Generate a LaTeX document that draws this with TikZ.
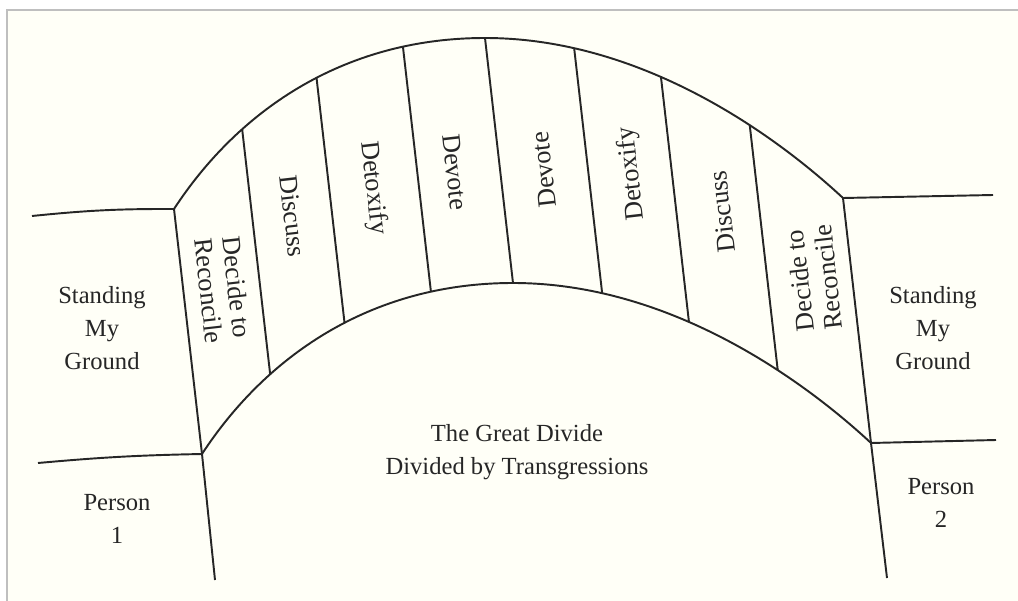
\documentclass[tikz,border=0pt]{standalone}
\usepackage{fontspec}
\setmainfont{Liberation Serif}
\usepackage{tikz}
\usetikzlibrary{calc}

\begin{document}
\begin{tikzpicture}[
  x=0.02cm, y=-0.02cm,
  edge/.style={line width=1.1pt, draw=black!85, line join=round},
  frame/.style={line width=1.4pt, draw=black!25},
  lbl/.style={font=\fontsize{14}{19}\selectfont, align=center, text=black!85},
  vlbl/.style={font=\fontsize{15}{16}\selectfont, align=center, text=black!85}
]
  \useasboundingbox (0,0) rectangle (1018,601);
  \fill[white] (0,0) rectangle (1018,601);
  \fill[yellow!3] (7,10) rectangle (1018,601);
  \draw[frame] (7,601) -- (7,10) -- (1018,10);

  % outer arch, dividers hang from it
  \draw[edge] (174,209) coordinate (lo)
    .. controls (236,114) and (340,38) .. (485,38)
      coordinate[pos=0.304] (o1) coordinate[pos=0.557] (o2)
      coordinate[pos=0.8] (o3) coordinate[pos=1] (o4)
    .. controls (640,38) and (773,133) .. (843,198)
      coordinate[pos=0.198] (o5) coordinate[pos=0.408] (o6)
      coordinate[pos=0.655] (o7) coordinate[pos=1] (ro);
  \coordinate (li) at ($(lo)+(28,245)$);
  \coordinate (ri) at ($(ro)+(28,245)$);
  \draw[edge] (li) .. controls (264,359) and (368,283) .. (513,283)
    .. controls (668,283) and (801,378) .. (ri);
  \foreach \n in {1,...,7}
    \draw[edge] (o\n) -- ($(o\n)+(28,245)$);

  % banks
  \coordinate (lbankA) at (32,216);
  \coordinate (lbankB) at (38,463);
  \coordinate (lfoot) at (215,580);
  \coordinate (rbankA) at (993,195);
  \coordinate (rbankB) at (996,440);
  \coordinate (rfoot) at (887,578);
  \draw[edge] (lbankA) to[bend left=3] (lo) -- (li) -- (lfoot);
  \draw[edge] (lbankB) to[bend left=2] (li);
  \draw[edge] (rbankA) -- (ro) -- (ri) -- (rfoot);
  \draw[edge] (rbankB) -- (ri);

  \node[lbl] (standL) at (102,328) {Standing\\My\\Ground};
  \node[lbl] (standR) at (933,328) {Standing\\My\\Ground};
  \node[lbl] (person1) at (117,519) {Person\\1};
  \node[lbl] (person2) at (941,503) {Person\\2};
  \node[lbl] (divide) at (517,452) {The Great Divide\\Divided by Transgressions};

  \node[vlbl, rotate=-83.5] (decideL) at (223,289) {Decide to\\Reconcile};
  \node[vlbl, rotate=-83.5] (discussL) at (293,216) {Discuss};
  \node[vlbl, rotate=-83.5] (detoxL) at (373,188) {Detoxify};
  \node[vlbl, rotate=-83.5] (devoteL) at (455,172) {Devote};
  \node[vlbl, rotate=96.5] (devoteR) at (544,170) {Devote};
  \node[vlbl, rotate=96.5] (detoxR) at (632,174) {Detoxify};
  \node[vlbl, rotate=96.5] (discussR) at (722,212) {Discuss};
  \node[vlbl, rotate=96.5] (decideR) at (814,279) {Decide to\\Reconcile};
\end{tikzpicture}
\end{document}
